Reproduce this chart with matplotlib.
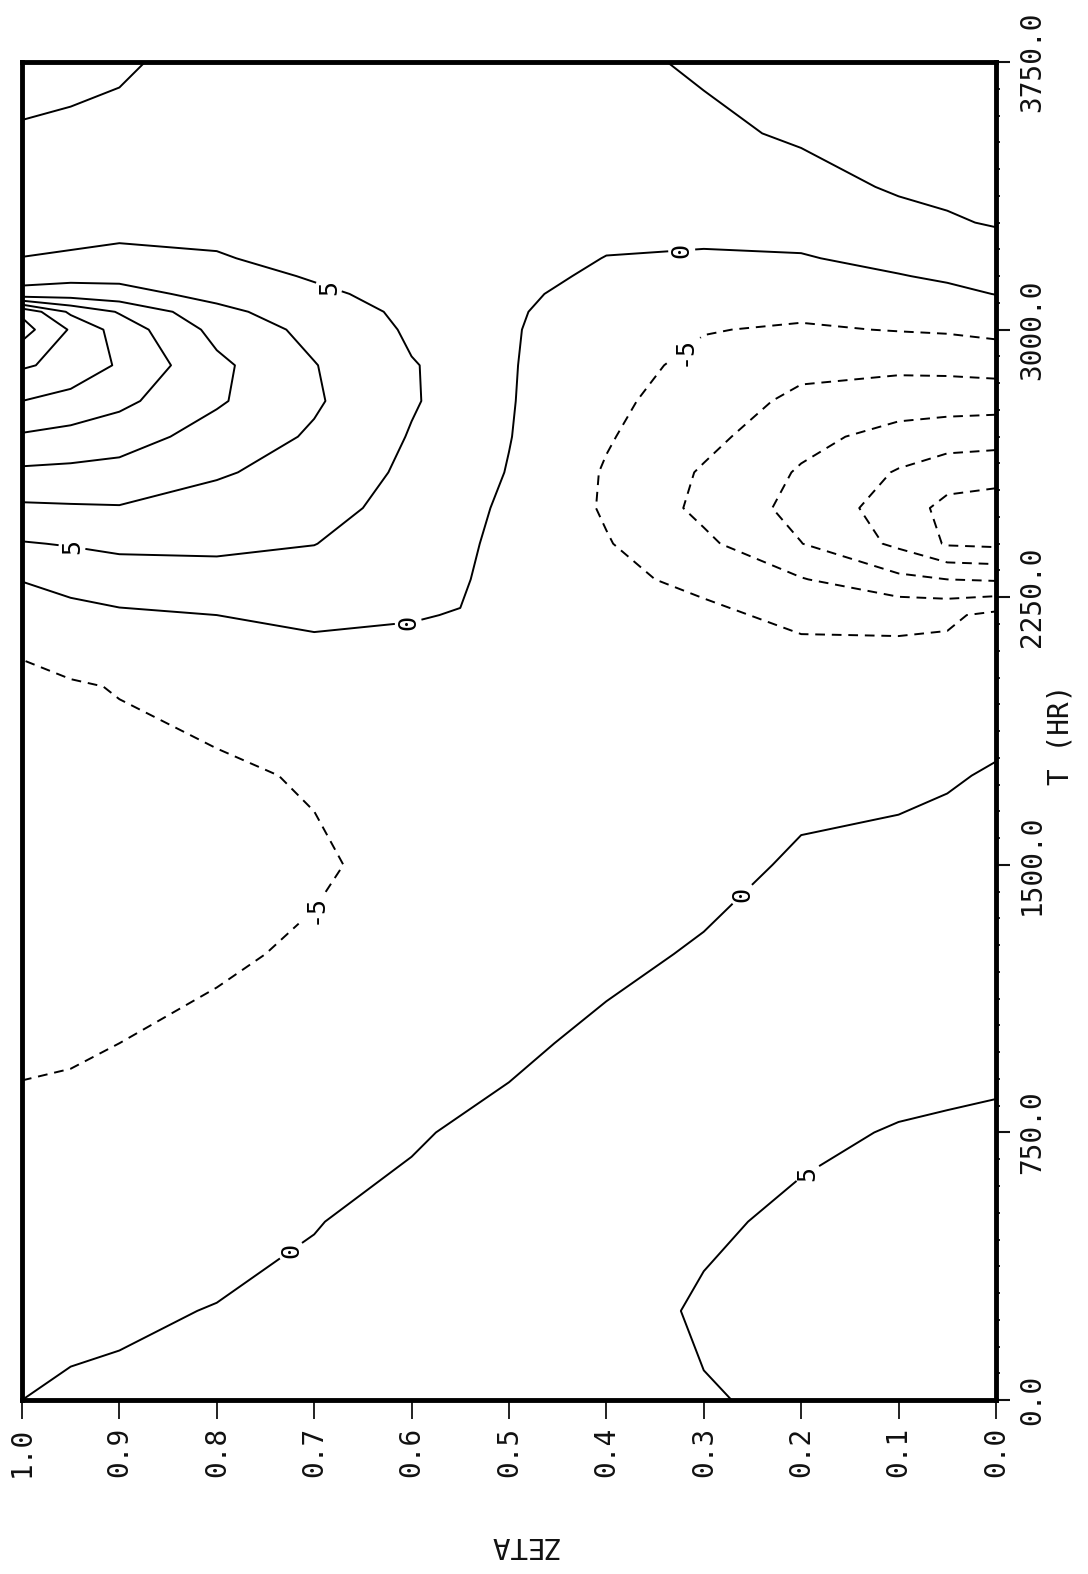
import numpy as np
import matplotlib
matplotlib.use("Agg")
import matplotlib.pyplot as plt
from matplotlib.ticker import MultipleLocator

plt.rcParams['font.family'] = ['DejaVu Sans Mono', 'DejaVu Sans']

# grid of the field: zeta levels (rows) and time in hours (columns)
zeta = [0.0, 0.05, 0.1, 0.2, 0.3, 0.4, 0.5, 0.55, 0.6, 0.7, 0.8, 0.9, 0.95, 1.0]
hours = [0, 250, 500, 750, 1000, 1250, 1500, 1750, 2000, 2200, 2300, 2400, 2500,
         2600, 2700, 2800, 2900, 3000, 3050, 3100, 3150, 3200, 3300, 3400, 3550, 3750]

# values estimated from the contour picture, one list per zeta level
z000 = [6.5, 7.0, 6.8, 5.6, 4.0, 2.8, 1.6, 0.3, -1.6, -3.8, -15.5, -26.0, -27.5,
        -23.0, -18.2, -13.0, -8.2, -3.8, -2.0, 0.1, 1.6, 3.0, 5.3, 6.1, 7.0, 8.0]
z005 = [6.3, 6.8, 6.5, 5.4, 3.8, 2.5, 1.2, -0.3, -2.2, -5.8, -15.0, -25.5, -26.5,
        -22.5, -17.8, -12.8, -8.8, -4.5, -3.0, -1.0, 0.6, 2.0, 4.6, 5.8, 6.8, 7.8]
z010 = [6.0, 6.5, 6.2, 5.2, 3.5, 2.2, 0.9, -0.7, -2.6, -6.0, -13.8, -21.0, -22.3,
        -20.4, -16.8, -12.6, -9.0, -4.8, -3.5, -2.0, -0.2, 1.2, 3.6, 5.5, 6.6, 7.6]
z020 = [5.5, 6.0, 5.6, 4.4, 3.0, 1.8, 0.5, -1.0, -2.8, -5.8, -9.7, -14.9, -16.6,
        -15.5, -13.5, -11.2, -8.6, -5.5, -4.2, -2.8, -1.5, -0.3, 1.8, 3.4, 5.6, 7.0]
z030 = [4.8, 5.4, 4.5, 3.3, 2.0, 0.4, -1.2, -2.4, -3.5, -4.3, -5.8, -9.0, -11.2,
        -10.5, -8.6, -7.2, -6.1, -4.8, -3.8, -2.7, -1.6, -0.5, 1.4, 2.8, 4.1, 5.6]
z040 = [3.6, 3.7, 3.2, 2.2, 0.8, -0.9, -2.2, -3.0, -3.5, -3.9, -4.2, -4.7, -5.5,
        -5.4, -4.6, -4.0, -3.4, -2.6, -2.0, -1.4, -0.7, -0.1, 1.2, 2.2, 3.2, 4.0]
z050 = [2.6, 2.5, 2.0, 0.9, -0.7, -2.0, -2.8, -3.2, -3.2, -2.8, -2.2, -1.5, -0.8,
        -0.2, 0.15, 0.3, 0.35, 0.4, 0.5, 0.8, 1.3, 1.8, 2.3, 2.6, 2.8, 3.0]
z055 = [2.2, 2.0, 1.5, 0.3, -1.3, -2.5, -3.2, -3.3, -2.6, -0.15, 0.6, 1.0, 1.3,
        1.9, 2.6, 3.4, 4.0, 3.9, 3.6, 3.3, 3.1, 3.0, 2.9, 2.9, 2.9, 2.9]
z060 = [1.8, 1.5, 0.8, -0.3, -1.8, -3.0, -3.6, -3.4, -1.8, 0.2, 1.2, 2.2, 3.2,
        4.0, 4.7, 5.4, 5.2, 4.4, 4.0, 3.6, 3.3, 3.1, 2.9, 2.8, 2.7, 2.6]
z070 = [1.2, 0.6, -0.1, -1.5, -3.0, -4.4, -5.6, -4.6, -1.6, 0.5, 2.8, 5.1, 6.8,
        8.2, 9.4, 10.6, 10.2, 8.6, 7.5, 5.8, 4.6, 3.8, 3.1, 2.8, 2.6, 2.4]
z080 = [0.6, 0.1, -1.0, -2.5, -4.0, -5.6, -6.4, -5.7, -3.4, 0.0, 3.2, 6.0, 8.2,
        10.5, 13.0, 15.6, 16.1, 13.5, 11.2, 8.6, 6.8, 5.3, 3.8, 2.8, 2.1, 1.4]
z090 = [0.5, -0.4, -2.0, -3.4, -5.0, -6.3, -6.8, -6.2, -4.8, -0.7, 2.6, 6.0, 9.7,
        13.4, 17.2, 21.2, 24.4, 22.8, 19.6, 11.6, 8.8, 6.1, 3.5, 2.0, 0.9, -0.5]
z095 = [0.6, -1.0, -2.6, -4.0, -5.4, -6.5, -7.0, -6.6, -5.4, -1.5, 1.6, 5.3, 9.5,
        13.8, 18.5, 23.2, 28.5, 29.5, 24.0, 12.5, 8.5, 5.6, 3.0, 1.8, 0.6, -1.0]
z100 = [0.0, -1.5, -3.0, -4.3, -5.5, -6.6, -7.2, -6.8, -6.2, -3.0, 0.2, 4.7, 9.2,
        14.1, 19.4, 25.0, 30.6, 37.0, 34.0, 11.5, 8.3, 5.1, 2.5, 1.4, 0.3, -1.3]

plain_levels = [-25, -20, -15, -10, 10, 15, 20, 25, 30, 35]
labelled = [-5, 0, 5]
# rough spots (zeta, hours) where the contour labels sit
label_spots = [(0.685, 3118), (0.948, 2402), (0.603, 2169), (0.323, 3236),
               (0.726, 427), (0.261, 1419), (0.698, 1371), (0.323, 2949),
               (0.197, 652)]

zeta_ticks = [0.0, 0.1, 0.2, 0.3, 0.4, 0.5, 0.6, 0.7, 0.8, 0.9, 1.0]
time_ticks = [0, 750, 1500, 2250, 3000, 3750]

field = np.array([z000, z005, z010, z020, z030, z040, z050, z055, z060,
                  z070, z080, z090, z095, z100]).T

fig = plt.figure(figsize=(10.88, 15.74), dpi=100)
ax = fig.add_axes([0.0202, 0.1105, 0.8952, 0.8501])


def dash_for(lvls):
    return [(0, (5, 3.5)) if lv < 0 else 'solid' for lv in lvls]


ax.contour(zeta, hours, field, levels=plain_levels, colors='k',
           linewidths=1.4, linestyles=dash_for(plain_levels))
cs = ax.contour(zeta, hours, field, levels=labelled, colors='k',
                linewidths=1.4, linestyles=dash_for(labelled))
texts = ax.clabel(cs, manual=label_spots, inline=True, inline_spacing=6,
                  fmt=lambda v: f"{v:.0f}", fontsize=18)
for t in texts:
    t.set_rotation(90)

ax.set_xlim(1.0, 0.0)
ax.set_ylim(0, 3750)

ax.set_xticks(zeta_ticks)
ax.set_xticklabels([f"{v:.1f}" for v in zeta_ticks], rotation=90)
ax.yaxis.tick_right()
ax.set_yticks(time_ticks)
ax.set_yticklabels([f"{v:.1f}" for v in time_ticks], rotation=90, va='center')
ax.yaxis.set_minor_locator(MultipleLocator(75))

ax.tick_params(axis='x', direction='out', length=14, width=1.3, pad=5,
               labelsize=20, colors='#111')
ax.tick_params(axis='y', which='major', left=False, right=True, direction='out',
               length=10, width=1.5, pad=6, labelsize=20, colors='#111')
ax.tick_params(axis='y', which='minor', left=False, right=True, direction='out',
               length=3, width=1.2)

for side in ['left', 'right', 'top', 'bottom']:
    ax.spines[side].set_linewidth(3.5)

fig.text(523 / 1088, 1 - 1545 / 1574, 'ZETA', rotation=180, ha='center',
         va='center', fontsize=21, color='#111')
fig.text(1060 / 1088, 1 - 735 / 1574, 'T (HR)', rotation=90, ha='center',
         va='center', fontsize=20, color='#111')

fig.savefig('out.png', dpi=100)
